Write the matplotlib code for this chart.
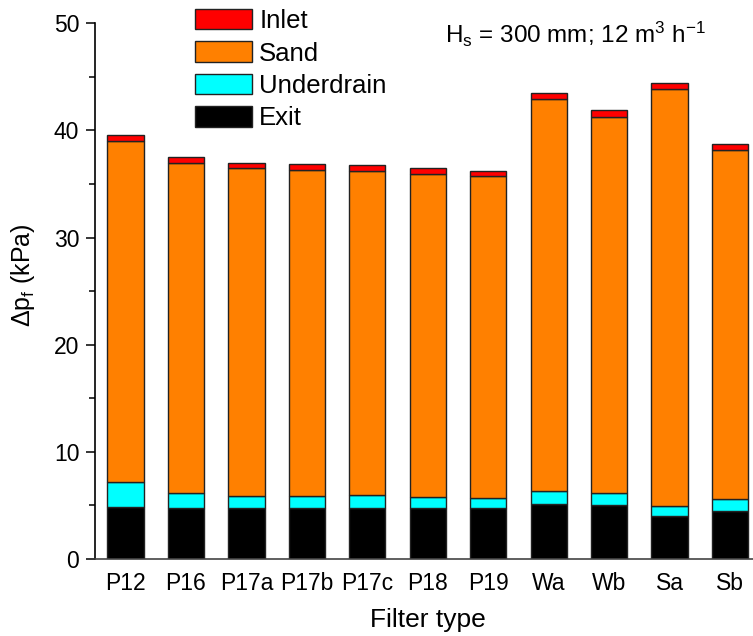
import numpy as np
import matplotlib
matplotlib.use("Agg")
import matplotlib.pyplot as plt

plt.rcParams['font.family'] = ['Liberation Sans', 'DejaVu Sans']
plt.rcParams['mathtext.fontset'] = 'custom'
plt.rcParams['mathtext.rm'] = 'Liberation Sans'
plt.rcParams['mathtext.it'] = 'Liberation Sans:italic'


# Filter types and pressure-drop components (kPa)
filters = ["P12", "P16", "P17a", "P17b", "P17c", "P18", "P19",
           "Wa", "Wb", "Sa", "Sb"]

exit_dp = [4.90, 4.80, 4.77, 4.77, 4.77, 4.77, 4.77, 5.11, 5.02, 4.05, 4.46]
underdrain_dp = [2.30, 1.37, 1.15, 1.15, 1.18, 1.03, 0.96, 1.21, 1.18, 0.93, 1.14]
sand_dp = [31.80, 30.80, 30.58, 30.38, 30.28, 30.15, 30.02, 36.64, 35.10, 38.88, 32.60]
inlet_dp = [0.55, 0.52, 0.48, 0.56, 0.50, 0.50, 0.50, 0.54, 0.57, 0.54, 0.55]


x = np.arange(len(filters))
w = 0.6
edge = "#222222"

fig = plt.figure(figsize=(7.53, 6.36), dpi=100)
ax = fig.add_axes([0.1266, 0.121, 0.883, 0.8424])

b0 = np.zeros(len(filters))
h_exit = ax.bar(x, exit_dp, w, bottom=b0, color="black",
                edgecolor=edge, linewidth=1, label="Exit")
b1 = b0 + np.array(exit_dp)
h_under = ax.bar(x, underdrain_dp, w, bottom=b1, color="#00FFFF",
                 edgecolor=edge, linewidth=1, label="Underdrain")
b2 = b1 + np.array(underdrain_dp)
h_sand = ax.bar(x, sand_dp, w, bottom=b2, color="#FF8000",
                edgecolor=edge, linewidth=1, label="Sand")
b3 = b2 + np.array(sand_dp)
h_inlet = ax.bar(x, inlet_dp, w, bottom=b3, color="#FF0000",
                 edgecolor=edge, linewidth=1, label="Inlet")

ax.set_xlim(-0.5, 10.5)
ax.set_ylim(0, 50)
ax.set_xticks(x)
ax.set_xticklabels(filters)
ax.set_yticks(np.arange(0, 51, 10))
ax.set_yticks(np.arange(5, 50, 10), minor=True)

ax.spines["top"].set_visible(False)
ax.spines["right"].set_visible(False)
ax.spines["left"].set_linewidth(1.2)
ax.spines["bottom"].set_linewidth(1.2)
ax.spines["bottom"].set_color("#444444")

ax.tick_params(axis="y", which="major", direction="out", length=6.5,
               width=1.1, labelsize=16.5, pad=5)
ax.tick_params(axis="y", which="minor", direction="out", length=4.5,
               width=1.1)
ax.tick_params(axis="x", length=0, labelsize=16.5, pad=9)

ax.set_xlabel("Filter type", fontsize=19, labelpad=10)
ax.set_ylabel(r"$\mathregular{\Delta p_f}$ (kPa)", fontsize=18)
ax.yaxis.set_label_coords(-0.088, 0.53)

fig.text(445 / 753, 1 - 34 / 636,
         r"$\mathregular{H_s}$ = 300 mm; 12 m$\mathregular{^3}$ h$\mathregular{^{-1}}$",
         fontsize=17.5, ha="left", va="center")

leg = ax.legend(handles=[h_inlet, h_sand, h_under, h_exit],
                loc="upper left", bbox_to_anchor=(195 / 753, 1 - 9 / 636),
                bbox_transform=fig.transFigure, frameon=False,
                fontsize=18.5, handlelength=2.2, handleheight=0.85,
                labelspacing=0.32, handletextpad=0.3,
                borderpad=0, borderaxespad=0)

fig.savefig("out.png", dpi=100)
